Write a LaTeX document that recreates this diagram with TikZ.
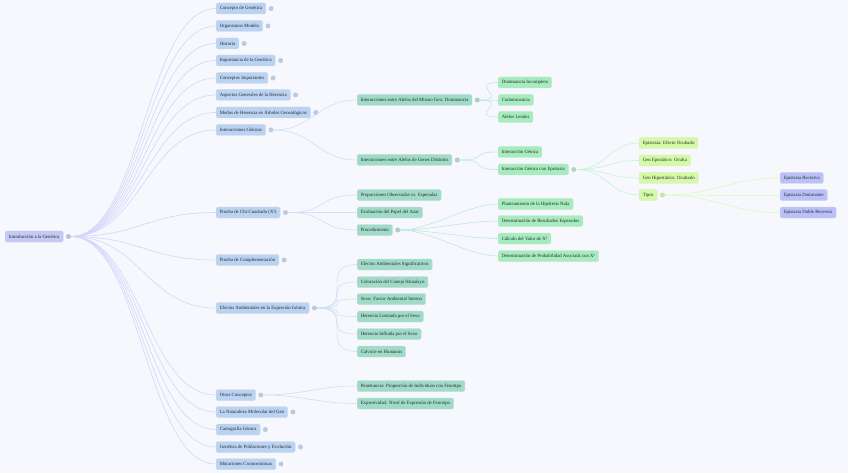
\documentclass[tikz,border=0pt]{standalone}
\usepackage{fontspec}
\setmainfont{Liberation Serif}
\usetikzlibrary{positioning}

\definecolor{bgcol}{RGB}{246,248,254}
\definecolor{rootcol}{RGB}{196,201,246}
\definecolor{onecol}{RGB}{186,211,242}
\definecolor{twocol}{RGB}{160,219,200}
\definecolor{threecol}{RGB}{166,236,190}
\definecolor{fourcol}{RGB}{212,250,168}
\definecolor{fivecol}{RGB}{186,192,250}

\tikzset{
  box/.style={anchor=west, rounded corners=1.5pt, inner xsep=3.6pt, inner ysep=0pt,
    minimum height=11pt, font=\fontsize{4.8}{5}\selectfont, text=black!85},
  root/.style={box, fill=rootcol, draw=rootcol!80!black!60},
  lone/.style={box, fill=onecol, draw=onecol!85!black!50},
  ltwo/.style={box, fill=twocol, draw=twocol!85!black!50},
  lthree/.style={box, fill=threecol, draw=threecol!85!black!50},
  lfour/.style={box, fill=fourcol, draw=fourcol!85!black!50},
  lfive/.style={box, fill=fivecol, draw=fivecol!85!black!50},
  tog/.style={circle, inner sep=0pt, minimum size=5pt, right=2.4pt of #1},
  link/.style={line width=0.6pt},
}

\begin{document}
\begin{tikzpicture}[x=1pt,y=-1pt]
\fill[bgcol] (0,0) rectangle (848,473);
\useasboundingbox (0,0) rectangle (848,473);

% root
\node[root] (root) at (5,236.5) {Introducción a la Genética};
\node[tog=root, fill=rootcol!85!black!75] (root-t) {};

% first level
\node[lone] (cgen) at (216,8.5) {Concepto de Genética};
\node[lone] (orga) at (216,26) {Organismos Modelo};
\node[lone] (hist) at (216,43.5) {Historia};
\node[lone] (impo) at (216,60.5) {Importancia de la Genética};
\node[lone] (cimp) at (216,78) {Conceptos Importantes};
\node[lone] (asp) at (216,95) {Aspectos Generales de la Herencia};
\node[lone] (modos) at (216,112.5) {Modos de Herencia en Árboles Genealógicos};
\node[lone] (inter) at (216,130) {Interacciones Génicas};
\node[lone] (chi) at (216,212.5) {Prueba de Chi-Cuadrado (X²)};
\node[lone] (compl) at (216,260) {Prueba de Complementación};
\node[lone] (efec) at (216,308) {Efectos Ambientales en la Expresión Génica};
\node[lone] (otros) at (216,395) {Otros Conceptos};
\node[lone] (molec) at (216,412) {La Naturaleza Molecular del Gen};
\node[lone] (carto) at (216,429.5) {Cartografía Génica};
\node[lone] (pobl) at (216,447) {Genética de Poblaciones y Evolución};
\node[lone] (mut) at (216,464) {Mutaciones Cromosómicas};

\foreach \n in {cgen,orga,hist,impo,cimp,asp,modos,inter,chi,compl,efec,otros,molec,carto,pobl,mut}
  \node[tog=\n, fill=onecol!85!black!70] (\n-t) {};

% second level
\node[ltwo] (dom) at (357,100) {Interacciones entre Alelos del Mismo Gen: Dominancia};
\node[ltwo] (dist) at (357,160) {Interacciones entre Alelos de Genes Distintos};
\node[ltwo] (prop) at (357,195) {Proporciones Observadas vs. Esperadas};
\node[ltwo] (azar) at (357,212.5) {Evaluación del Papel del Azar};
\node[ltwo] (proc) at (357,230) {Procedimiento};
\node[ltwo] (esig) at (357,264.5) {Efectos Ambientales Significativos};
\node[ltwo] (himal) at (357,282) {Coloración del Conejo Himalayo};
\node[ltwo] (sexo) at (357,299) {Sexo: Factor Ambiental Interno};
\node[ltwo] (limit) at (357,316.5) {Herencia Limitada por el Sexo};
\node[ltwo] (influ) at (357,334) {Herencia Influida por el Sexo};
\node[ltwo] (calv) at (357,351.5) {Calvicie en Humanos};
\node[ltwo] (pene) at (357,386) {Penetrancia: Proporción de Individuos con Fenotipo};
\node[ltwo] (expr) at (357,403.5) {Expresividad: Nivel de Expresión de Fenotipo};

\foreach \n in {dom,dist,proc}
  \node[tog=\n, fill=twocol!85!black!70] (\n-t) {};

% third level
\node[lthree] (incom) at (498,82.5) {Dominancia Incompleta};
\node[lthree] (codom) at (498,100) {Codominancia};
\node[lthree] (letal) at (498,117) {Alelos Letales};
\node[lthree] (igen) at (498,152) {Interacción Génica};
\node[lthree] (iepi) at (498,169.5) {Interacción Génica con Epistasia};
\node[lthree] (hipo) at (498,204) {Planteamiento de la Hipótesis Nula};
\node[lthree] (espe) at (498,221) {Determinación de Resultados Esperados};
\node[lthree] (valor) at (498,238.5) {Cálculo del Valor de X²};
\node[lthree] (proba) at (498,256) {Determinación de Probabilidad Asociada con X²};
\node[tog=iepi, fill=threecol!85!black!70] (iepi-t) {};

% fourth level
\node[lfour] (efoc) at (639,143) {Epistasia: Efecto Ocultado};
\node[lfour] (gepi) at (639,160.5) {Gen Epistático: Oculta};
\node[lfour] (ghipo) at (639,178) {Gen Hipostático: Ocultado};
\node[lfour] (tipos) at (639,195) {Tipos};
\node[tog=tipos, fill=fourcol!85!black!70] (tipos-t) {};

% fifth level
\node[lfive] (erec) at (780,178) {Epistasia Recesiva};
\node[lfive] (edom) at (780,195) {Epistasia Dominante};
\node[lfive] (edob) at (780,212.5) {Epistasia Doble Recesiva};

% links
\foreach \b in {cgen,orga,hist,impo,cimp,asp,modos,inter,chi,compl,efec,otros,molec,carto,pobl,mut}
  \draw[link, rootcol!75] (root-t.east) .. controls +(70,0) and +(-70,0) .. (\b.west);

\foreach \a/\b in {inter-t/dom,inter-t/dist,chi-t/prop,chi-t/azar,chi-t/proc,
    efec-t/esig,efec-t/himal,efec-t/sexo,efec-t/limit,efec-t/influ,efec-t/calv,
    otros-t/pene,otros-t/expr}
  \draw[link, onecol!70] (\a.east) .. controls +(40,0) and +(-40,0) .. (\b.west);

\foreach \a/\b in {dom-t/incom,dom-t/codom,dom-t/letal,dist-t/igen,dist-t/iepi,
    proc-t/hipo,proc-t/espe,proc-t/valor,proc-t/proba}
  \draw[link, twocol!65] (\a.east) .. controls +(30,0) and +(-30,0) .. (\b.west);

\foreach \b in {efoc,gepi,ghipo,tipos}
  \draw[link, threecol!65] (iepi-t.east) .. controls +(30,0) and +(-30,0) .. (\b.west);

\foreach \b in {erec,edom,edob}
  \draw[link, fourcol!75] (tipos-t.east) .. controls +(50,0) and +(-50,0) .. (\b.west);
\end{tikzpicture}
\end{document}
